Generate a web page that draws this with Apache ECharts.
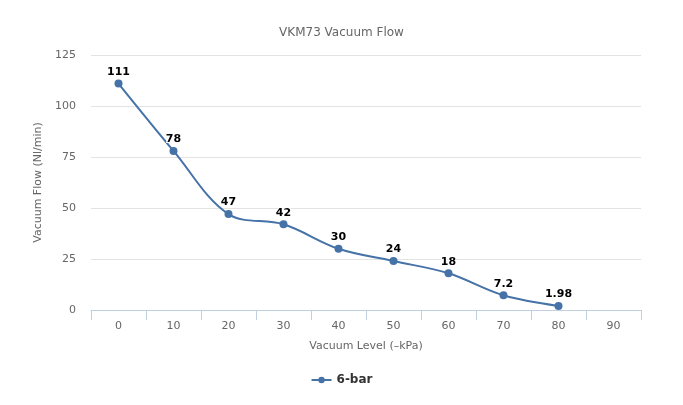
<!DOCTYPE html>
<html><head><meta charset="utf-8">
<script src="https://cdn.jsdelivr.net/npm/echarts@6/dist/echarts.min.js"></script>
<style>html,body{margin:0;padding:0;background:#fff}#c{width:683px;height:405px}</style>
</head><body><div id="c"></div>
<script>
const categories = ['0','10','20','30','40','50','60','70','80','90'];
const flow6bar = [111, 78, 47, 42, 30, 24, 18, 7.2, 1.98, null];
const seriesName = '6-bar';
const yTicks = {min: 0, max: 125, interval: 25};

const FONT = '"DejaVu Sans", Verdana, sans-serif';
const chart = echarts.init(document.getElementById('c'));
chart.setOption({
  animation: false,
  textStyle: {fontFamily: FONT},
  title: {text: 'VKM73 Vacuum Flow', left: 'center', top: 22,
    textStyle: {fontFamily: FONT, fontSize: 12, fontWeight: 'normal', color: '#666'}},
  grid: {left: 91, right: 42, top: 55, bottom: 95},
  legend: {bottom: 14, left: 'center', itemWidth: 20, itemHeight: 8,
    textStyle: {fontFamily: FONT, fontSize: 12, fontWeight: 'bold', color: '#333'}},
  xAxis: {type: 'category', data: categories, boundaryGap: true,
    name: 'Vacuum Level (–kPa)', nameLocation: 'middle', nameGap: 31,
    nameTextStyle: {fontFamily: FONT, fontSize: 11, color: '#666'},
    axisLine: {lineStyle: {color: '#C0D0E0', width: 1}},
    axisTick: {show: true, length: 10, lineStyle: {color: '#C0D0E0'}},
    axisLabel: {fontFamily: FONT, fontSize: 11, color: '#666', margin: 11},
    splitLine: {show: false}},
  yAxis: {type: 'value', min: yTicks.min, max: yTicks.max, interval: yTicks.interval,
    name: 'Vacuum Flow (Nl/min)', nameLocation: 'middle', nameGap: 46,
    nameTextStyle: {fontFamily: FONT, fontSize: 11, color: '#666'},
    axisLine: {show: false}, axisTick: {show: false},
    axisLabel: {fontFamily: FONT, fontSize: 11, color: '#666', margin: 15},
    splitLine: {lineStyle: {color: '#E3E3E3', width: 1}}},
  series: [{
    name: seriesName, type: 'line', data: flow6bar, smooth: 0.35,
    symbol: 'circle', symbolSize: 8,
    lineStyle: {color: '#4572A7', width: 2},
    itemStyle: {color: '#4572A7'},
    label: {show: true, position: 'top', distance: 2, fontFamily: FONT, fontSize: 11,
      fontWeight: 'bold', color: '#000', textBorderColor: '#fff', textBorderWidth: 2}
  }]
});
</script></body></html>
